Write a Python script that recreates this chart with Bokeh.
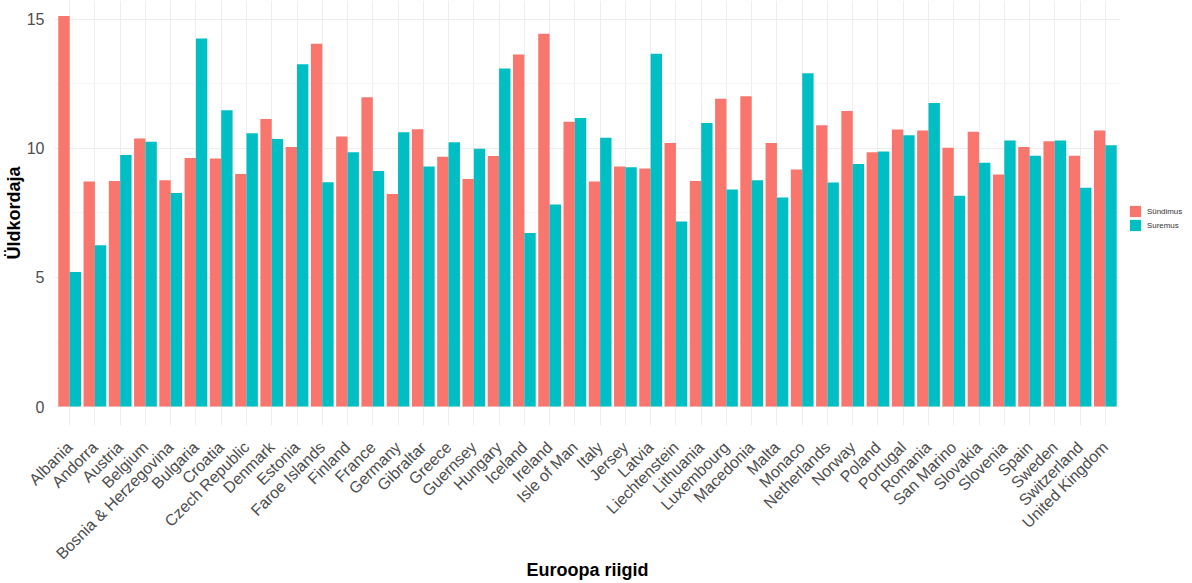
import numpy as np
from bokeh.plotting import figure
from bokeh.layouts import row
from bokeh.models import Range1d, FixedTicker, Legend, LegendItem, ColumnDataSource
from bokeh.embed import file_html
from bokeh.resources import INLINE

countries = ["Albania", "Andorra", "Austria", "Belgium", "Bosnia & Herzegovina", "Bulgaria",
             "Croatia", "Czech Republic", "Denmark", "Estonia", "Faroe Islands", "Finland",
             "France", "Germany", "Gibraltar", "Greece", "Guernsey", "Hungary", "Iceland",
             "Ireland", "Isle of Man", "Italy", "Jersey", "Latvia", "Liechtenstein",
             "Lithuania", "Luxembourg", "Macedonia", "Malta", "Monaco", "Netherlands",
             "Norway", "Poland", "Portugal", "Romania", "San Marino", "Slovakia", "Slovenia",
             "Spain", "Sweden", "Switzerland", "United Kingdom"]
sundimus = [15.13, 8.72, 8.74, 10.39, 8.77, 9.63, 9.61, 9.01, 11.14, 10.06, 14.06, 10.46,
            11.98, 8.24, 10.74, 9.68, 8.82, 9.71, 13.64, 14.44, 11.03, 8.72, 9.30, 9.22,
            10.21, 8.74, 11.93, 12.02, 10.21, 9.18, 10.90, 11.45, 9.85, 10.73, 10.70,
            10.03, 10.65, 8.99, 10.06, 10.28, 9.72, 10.70]
suremus = [5.21, 6.25, 9.75, 10.26, 8.27, 14.26, 11.48, 10.59, 10.37, 13.26, 8.69, 9.85,
           9.13, 10.63, 9.30, 10.24, 9.99, 13.10, 6.72, 7.83, 11.18, 10.41, 9.27, 13.67,
           7.17, 10.99, 8.41, 8.77, 8.10, 12.91, 8.68, 9.40, 9.88, 10.51, 11.76,
           8.17, 9.45, 10.31, 9.72, 10.31, 8.48, 10.12]
series_names = ["Sündimus", "Suremus"]
colors = ["#F8766D", "#00BFC4"]
y_ticks = [0, 5, 10, 15]
y_minor = [2.5, 7.5, 12.5]
x_title = "Euroopa riigid"
y_title = "Üldkordaja"

FONT = "Liberation Sans"
n = len(countries)
idx = np.arange(1, n + 1)

# layout (the page shows the layout at 0,0)
W_MAIN, W_LEG, H = 1120, 72, 583
ML, MR, MT, MB = 51, 0, 0, 157
FH = H - MT - MB
zero_px = 407          # y=0 location from top
yunit = 25.87          # px per unit
y_top = zero_px / yunit
y_bot = -(FH - zero_px) / yunit

p = figure(width=W_MAIN, height=H, output_backend="svg", toolbar_location=None,
           x_range=Range1d(0.4, n + 0.6), y_range=Range1d(y_bot, y_top),
           min_border_left=ML, min_border_right=MR, min_border_top=MT,
           min_border_bottom=MB)
p.outline_line_color = None
p.background_fill_color = "white"
p.border_fill_color = "white"

src = ColumnDataSource(dict(x1=idx - 0.225, x2=idx + 0.225, s=sundimus, d=suremus))
r1 = p.vbar(x="x1", top="s", bottom=0, width=0.45, source=src,
            fill_color=colors[0], line_color=None)
r2 = p.vbar(x="x2", top="d", bottom=0, width=0.45, source=src,
            fill_color=colors[1], line_color=None)

# axes
p.xaxis.ticker = FixedTicker(ticks=[int(i) for i in idx])
p.xaxis.major_label_overrides = {int(i): c for i, c in zip(idx, countries)}
p.xaxis.major_label_orientation = np.pi / 4
p.yaxis.ticker = FixedTicker(ticks=y_ticks, minor_ticks=y_minor)

for ax in (p.xaxis[0], p.yaxis[0]):
    ax.axis_line_color = None
    ax.major_tick_line_color = None
    ax.minor_tick_line_color = None
    ax.major_label_text_font = FONT
    ax.major_label_text_font_size = "16px"
    ax.major_label_text_color = "#4D4D4D"
    ax.axis_label_text_font = FONT
    ax.axis_label_text_font_size = "18px"
    ax.axis_label_text_font_style = "bold"
    ax.axis_label_text_color = "black"

p.xaxis.axis_label = x_title
p.yaxis.axis_label = y_title
p.xaxis.major_label_standoff = 13
p.xaxis.axis_label_standoff = -11
p.yaxis.major_label_standoff = 4
p.yaxis.axis_label_standoff = 0

# grid
p.xgrid.grid_line_color = "#EDEDED"
p.xgrid.grid_line_width = 1
p.ygrid.grid_line_color = "#EDEDED"
p.ygrid.grid_line_width = 1
p.ygrid.minor_grid_line_color = "#F5F5F5"
p.ygrid.minor_grid_line_width = 1

# legend strip to the right of the panel (its frame is aligned with the main frame)
pl = figure(width=W_LEG, height=H, output_backend="svg", toolbar_location=None,
            x_axis_location=None, y_axis_location=None,
            x_range=Range1d(-10, -9), y_range=Range1d(-10, -9),
            min_border_left=0, min_border_right=0, min_border_top=0, min_border_bottom=0)
pl.outline_line_color = None
pl.grid.grid_line_color = None
pl.background_fill_color = "white"
pl.border_fill_color = "white"
# same data, outside this strip's visible range: only used for the legend keys
k1 = pl.vbar(x="x1", top="s", bottom=0, width=0.45, source=src,
             fill_color=colors[0], line_color=None)
k2 = pl.vbar(x="x2", top="d", bottom=0, width=0.45, source=src,
             fill_color=colors[1], line_color=None)

PAD = 5
legend = Legend(items=[LegendItem(label=series_names[0], renderers=[k1]),
                       LegendItem(label=series_names[1], renderers=[k2])],
                location=(1133 - W_MAIN - PAD, FH - 228 - PAD),
                orientation="vertical",
                glyph_width=14, glyph_height=14, label_height=14, spacing=0,
                label_standoff=5, padding=PAD, margin=0,
                label_text_font=FONT, label_text_font_size="7.9px",
                label_text_color="#333333",
                border_line_color=None, background_fill_alpha=0)
pl.add_layout(legend)

layout = row(p, pl)
open("out.html", "w").write(file_html(layout, INLINE))
